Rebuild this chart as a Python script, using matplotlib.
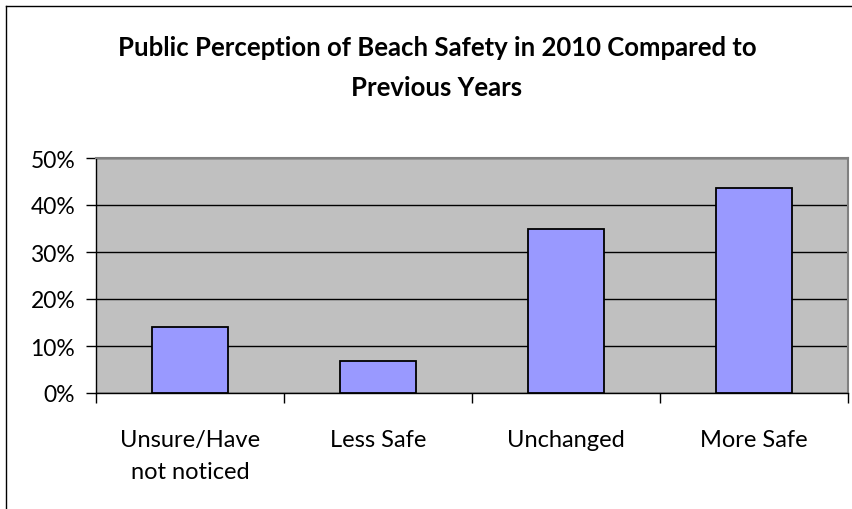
import matplotlib.pyplot as plt
import numpy as np
from matplotlib.lines import Line2D
from matplotlib.ticker import FixedLocator, PercentFormatter

categories = ["Unsure/Have\nnot noticed", "Less Safe", "Unchanged", "More Safe"]
values = [14.0, 6.8, 35.0, 43.7]
yticks = [0, 10, 20, 30, 40, 50]
title = "Public Perception of Beach Safety in 2010 Compared to\nPrevious Years"

plt.rcParams["font.family"] = ["Lato", "DejaVu Sans"]

W, H = 853, 510
fig = plt.figure(figsize=(W / 100, H / 100), dpi=100)

# plot area in pixel terms
left, right, top, bottom = 96, 848, 159, 394
ax = fig.add_axes([left / W, 1 - bottom / H, (right - left) / W, (bottom - top) / H])
ax.set_facecolor("#C0C0C0")

x = np.arange(len(categories))
ax.bar(x, values, width=0.4, color="#9999FF", edgecolor="black", linewidth=1.3, zorder=3)

ax.set_xlim(-0.5, len(categories) - 0.5)
ax.set_ylim(0, 50)
ax.set_yticks(yticks)
ax.yaxis.set_major_formatter(PercentFormatter(decimals=0))
ax.grid(axis="y", color="black", linewidth=1.0, zorder=1)
ax.set_axisbelow(True)

ax.set_xticks(x)
ax.set_xticklabels(categories, fontsize=17, linespacing=1.65)
ax.xaxis.set_minor_locator(FixedLocator(np.arange(-0.5, len(categories), 1.0)))
ax.tick_params(axis="x", which="major", length=0, pad=26)
ax.tick_params(axis="x", which="minor", length=7, width=1, color="black", direction="out")
ax.tick_params(axis="y", length=7, width=1, color="black", direction="out", labelsize=16.5, pad=8)

for s in ["top", "right"]:
    ax.spines[s].set_color("#808080")
    ax.spines[s].set_linewidth(1.5)
for s in ["left", "bottom"]:
    ax.spines[s].set_color("black")
    ax.spines[s].set_linewidth(1.0)

fig.text(437 / W, 1 - 68 / H, title, ha="center", va="center", fontsize=18.5,
         fontweight="bold", linespacing=1.85)

# chart frame edges visible in the crop
fig.add_artist(Line2D([6 / W, 1], [1 - 7 / H, 1 - 7 / H], color="black", linewidth=1.0))
fig.add_artist(Line2D([6 / W, 6 / W], [1 - 7 / H, 0], color="black", linewidth=1.0))

fig.savefig("out.png", dpi=100)
